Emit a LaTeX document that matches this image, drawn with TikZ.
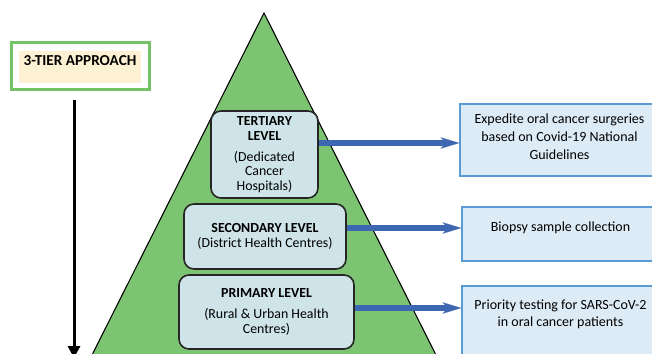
\documentclass[tikz,border=0pt]{standalone}
\usepackage{fontspec}
\setmainfont{Carlito}
\usetikzlibrary{arrows.meta,positioning}

\definecolor{pyramidgreen}{HTML}{7DC472}
\definecolor{levelfill}{HTML}{CFE4E9}
\definecolor{outfill}{HTML}{DDEBF7}
\definecolor{outline}{HTML}{5B9BD5}
\definecolor{flowblue}{HTML}{4472C4}
\definecolor{titlegreen}{HTML}{74C365}
\definecolor{titlefill}{HTML}{FCF1D2}

\tikzset{
  level/.style={draw=black!85, line width=1.2pt, fill=levelfill, rounded corners=7.5pt,
    inner sep=0pt, align=center, font=\fontsize{10.4}{10.9}\selectfont},
  outbox/.style={draw=outline, line width=1.1pt, fill=outfill, inner sep=0pt},
  outtext/.style={align=center, font=\fontsize{10.5}{13.2}\selectfont},
  flow/.style={draw=flowblue!90!black, line width=4pt,
    -{Stealth[length=14pt,width=8.5pt,inset=4pt,line width=0.1pt]}},
}

\begin{document}
\begin{tikzpicture}[x=0.75pt,y=-0.75pt]
  \useasboundingbox (0,0) rectangle (652,353);
  \clip (0,0) rectangle (652,353);
  % Pyramid
  \draw[fill=pyramidgreen, line width=0.8pt] (264,13) -- (438.5,360) -- (89.5,360) -- cycle;
  % Title and the downward arrow
  \node[draw=titlegreen, line width=2.3pt, minimum width=104pt, minimum height=35.7pt] (frame) at (80.5,66) {};
  \node[fill=titlefill, minimum width=91.5pt, minimum height=24pt,
    label={[font=\fontsize{11.4}{12}\selectfont\bfseries, yshift=4.5pt]center:3-TIER APPROACH}] (tag) at (80,67) {};
  \coordinate (tiertop) at (74,100);
  \coordinate (tierbottom) at (74,358);
  \draw[line width=2.25pt, -{Triangle[length=9pt,width=9pt]}] (tiertop) -- (tierbottom);
  % Levels
  \node[level, minimum width=80.25pt, minimum height=65.25pt] (tert) at (264.5,154.5)
    {\textbf{TERTIARY}\\\textbf{LEVEL}\\[5pt](Dedicated\\Cancer\\Hospitals)};
  \node[level, minimum width=121.5pt, minimum height=48.75pt] (sec) at (265,236.5)
    {\textbf{SECONDARY LEVEL}\\(District Health Centres)};
  \node[level, minimum width=131.25pt, minimum height=55.5pt] (prim) at (266.5,312)
    {\textbf{PRIMARY LEVEL}\\[5pt](Rural \& Urban Health\\Centres)};
  % Actions
  \node[outbox, minimum width=149.25pt, minimum height=54pt,
    label={[outtext, yshift=2.5pt]center:Expedite oral cancer surgeries\\based on Covid-19 National\\Guidelines}] (surg) at (559.5,140) {};
  \node[outbox, minimum width=147.75pt, minimum height=40.5pt,
    label={[outtext, yshift=4.5pt]center:Biopsy sample collection}] (bio) at (560.5,234) {};
  \node[outbox, minimum width=147.75pt, minimum height=52.5pt,
    label={[outtext, yshift=5pt]center:Priority testing for SARS-CoV-2\\in oral cancer patients}] (test) at (560.5,321) {};
  % Arrows
  \draw[flow] (tert.east |- 0,143) -- (surg.west |- 0,143);
  \draw[flow] (sec.east |- 0,228) -- (bio.west |- 0,228);
  \draw[flow] (prim.east |- 0,308) -- (test.west |- 0,308);
\end{tikzpicture}
\end{document}
